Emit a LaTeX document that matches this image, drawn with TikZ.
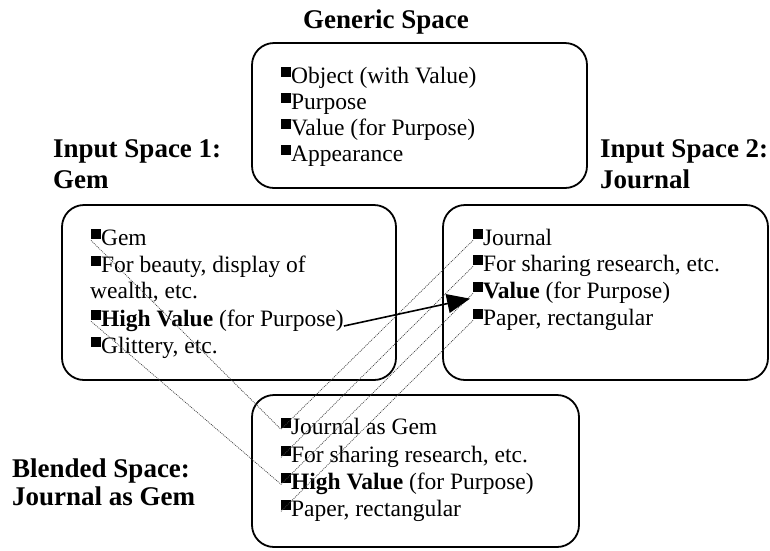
\documentclass[tikz,border=0pt]{standalone}
\usepackage{fontspec}
\setmainfont{Liberation Serif}
\usetikzlibrary{arrows.meta,calc}
\newcommand\bsq{\rule[0.26em]{0.42em}{0.42em}}
\begin{document}
\begin{tikzpicture}[x=1pt,y=-1pt,
  box/.style={draw, line width=1.8pt, rounded corners=22pt, inner sep=0pt},
  item/.style={anchor=base west, inner sep=0pt, font=\fontsize{23.5}{27}\selectfont, text height=0.94em, text depth=0pt},
  head/.style={anchor=base west, inner sep=0pt, font=\fontsize{27}{31}\selectfont\bfseries},
  link/.style={line width=0.7pt, dash pattern=on 1pt off 1pt, black!75},
  mainarrow/.style={line width=1.6pt, -{Triangle[length=23pt,width=19pt]}, shorten >=3pt},
  ]
\useasboundingbox (0,0) rectangle (770,550);

% boxes
\node[box, minimum width=335pt, minimum height=145pt] (gen) at (419.5,115.5) {};
\node[box, minimum width=334pt, minimum height=175pt] (in1) at (229,292.5) {};
\node[box, minimum width=325pt, minimum height=175pt] (in2) at (605.5,292.5) {};
\node[box, minimum width=327pt, minimum height=152pt] (bld) at (415.5,471) {};

% headings
\node[head] (hg) at (303,28) {Generic Space};
\node[head] (h1a) at (53,157) {Input Space 1:};
\node[head] (h1b) at (53,188) {Gem};
\node[head] (h2a) at (600,157) {Input Space 2:};
\node[head] (h2b) at (600,188) {Journal};
\node[head] (h3a) at (12,477) {Blended Space:};
\node[head] (h3b) at (12,505) {Journal as Gem};

% generic space
\node[item] (g1) at (281,83) {\bsq Object (with Value)};
\node[item] (g2) at (281,109) {\bsq Purpose};
\node[item] (g3) at (281,135) {\bsq Value (for Purpose)};
\node[item] (g4) at (281,161) {\bsq Appearance};

% input 1
\node[item] (a1) at (91,245) {\bsq Gem};
\node[item] (a2) at (91,272) {\bsq For beauty, display of};
\node[item] (a2b) at (90,298) {wealth, etc.};
\node[item] (a3) at (91,326) {\bsq\textbf{High Value} (for Purpose)};
\node[item] (a4) at (91,353) {\bsq Glittery, etc.};

% input 2
\node[item] (b1) at (473,245) {\bsq Journal};
\node[item] (b2) at (473,271) {\bsq For sharing research, etc.};
\node[item] (b3) at (473,298) {\bsq\textbf{Value} (for Purpose)};
\node[item] (b4) at (473,325) {\bsq Paper, rectangular};

% blend
\node[item] (c1) at (281,434) {\bsq Journal as Gem};
\node[item] (c2) at (281,462) {\bsq For sharing research, etc.};
\node[item] (c3) at (281,489) {\bsq\textbf{High Value} (for Purpose)};
\node[item] (c4) at (281,516) {\bsq Paper, rectangular};

% dotted mappings
\draw[link] (a1.west) -- (c1.west);
\draw[link] (a3.west) -- (c3.west);
\draw[link] (b1.west) -- (c1.west);
\draw[link] (b2.west) -- (c2.west);
\draw[link] (b3.west) -- (c3.west);
\draw[link] (b4.west) -- (c4.west);

% main arrow
\draw[mainarrow] (a3.base east) -- (b3.base west);
\end{tikzpicture}
\end{document}
